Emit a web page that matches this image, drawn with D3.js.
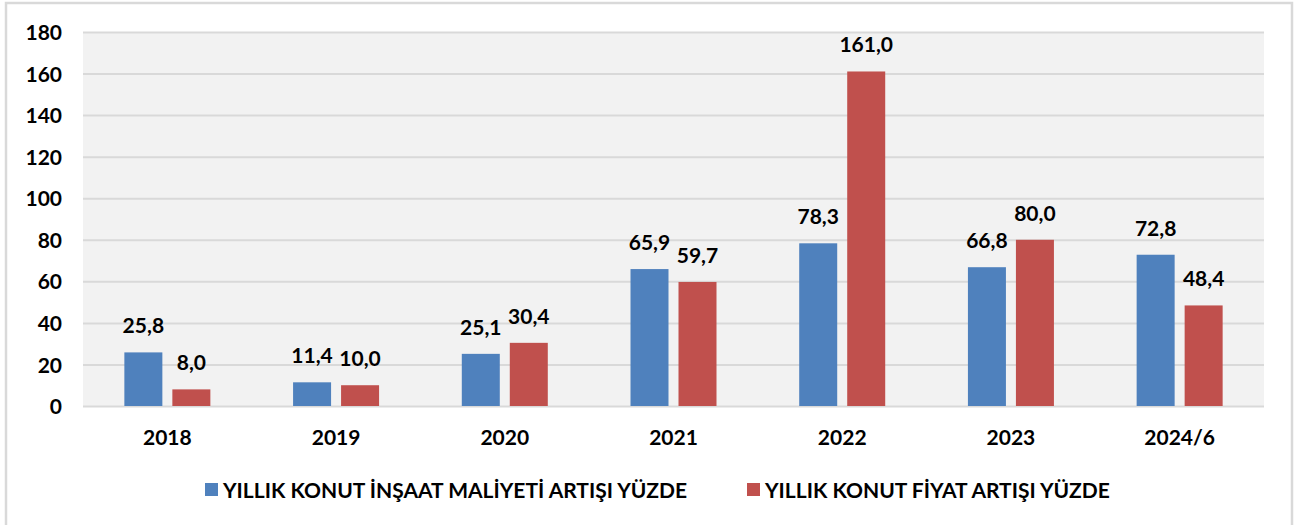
<!DOCTYPE html>
<html>
<head>
<meta charset="utf-8">
<script src="https://cdn.jsdelivr.net/npm/d3@7"></script>
<style>
  body { margin: 0; background: #fff; }
  svg text { font-family: Lato, "Open Sans", sans-serif; font-weight: bold; fill: #000; }
</style>
</head>
<body>
<div id="chart"></div>
<script>
// data
var years = ['2018', '2019', '2020', '2021', '2022', '2023', '2024/6']
var seriesNames = ['YILLIK KONUT İNŞAAT MALİYETİ ARTIŞI YÜZDE', 'YILLIK KONUT FİYAT ARTIŞI YÜZDE']
var costIncrease = [25.8, 11.4, 25.1, 65.9, 78.3, 66.8, 72.8]
var priceIncrease = [8.0, 10.0, 30.4, 59.7, 161.0, 80.0, 48.4]
var yTicks = [0, 20, 40, 60, 80, 100, 120, 140, 160, 180]
var colors = ['#4f81bd', '#c0504d']

var W = 1297, H = 525
var plotL = 83, plotR = 1264, plotT = 32, plotB = 406

var svg = d3.select('#chart').append('svg')
  .attr('width', W).attr('height', H)

// outer chart frame
svg.append('rect')
  .attr('x', 6).attr('y', 3)
  .attr('width', 1286).attr('height', 540)
  .attr('fill', '#fff')
  .attr('stroke', '#d9d9d9').attr('stroke-width', 2.5)

// plot background
svg.append('rect')
  .attr('x', plotL).attr('y', plotT)
  .attr('width', plotR - plotL).attr('height', plotB - plotT)
  .attr('fill', '#f2f2f2')

var x0 = d3.scaleBand().domain(years).range([plotL, plotR])
var step = 48, barW = 38
var pi = (step - barW) / step
var po = (x0.bandwidth() / step - 2 + pi) / 2
var x1 = d3.scaleBand().domain([0, 1]).range([0, x0.bandwidth()])
  .paddingInner(pi).paddingOuter(po)

var y = d3.scaleLinear().domain([0, 180]).range([plotB, plotT])

// gridlines + y labels
var yAxis = d3.axisLeft(y).tickValues(yTicks).tickSize(-(plotR - plotL)).tickPadding(21)
var gy = svg.append('g').attr('transform', 'translate(' + plotL + ',0)').call(yAxis)
gy.select('.domain').remove()
gy.selectAll('.tick line').attr('stroke', '#d9d9d9').attr('stroke-width', 2)
gy.selectAll('.tick text').attr('font-size', 21).attr('dy', '0.36em')

// bars
var rows = years.map(function(yr, i){
  return { year: yr, vals: [costIncrease[i], priceIncrease[i]] }
})

var groups = svg.selectAll('g.year')
  .data(rows)
  .enter()
  .append('g')
  .attr('class', 'year')
  .attr('transform', function(d){ return 'translate(' + x0(d.year) + ',0)' })

groups.selectAll('rect')
  .data(function(d){ return d.vals })
  .enter()
  .append('rect')
  .attr('x', function(d, i){ return x1(i) })
  .attr('width', x1.bandwidth())
  .attr('y', function(d){ return y(d) })
  .attr('height', function(d){ return y(0) - y(d) })
  .attr('fill', function(d, i){ return colors[i] })

groups.selectAll('text.val')
  .data(function(d){ return d.vals })
  .enter()
  .append('text')
  .attr('class', 'val')
  .attr('x', function(d, i){ return x1(i) + x1.bandwidth() / 2 })
  .attr('y', function(d){ return y(d) - 19 })
  .attr('text-anchor', 'middle')
  .attr('font-size', 21)
  .text(function(d){ return d.toFixed(1).replace('.', ',') })

// x labels
var xAxis = d3.axisBottom(x0).tickSize(0).tickPadding(24)
var gx = svg.append('g').attr('transform', 'translate(0,' + plotB + ')').call(xAxis)
gx.select('.domain').remove()
gx.selectAll('.tick text').attr('font-size', 21)

// legend
var legendX = [205, 747]
var legend = svg.selectAll('g.legend')
  .data(seriesNames)
  .enter()
  .append('g')
  .attr('class', 'legend')
  .attr('transform', function(d, i){ return 'translate(' + legendX[i] + ',483)' })

legend.append('rect')
  .attr('width', 13).attr('height', 13)
  .attr('fill', function(d, i){ return colors[i] })

legend.append('text')
  .attr('x', 18).attr('y', 14.5)
  .attr('font-size', 21)
  .text(function(d){ return d })
</script>
</body>
</html>
